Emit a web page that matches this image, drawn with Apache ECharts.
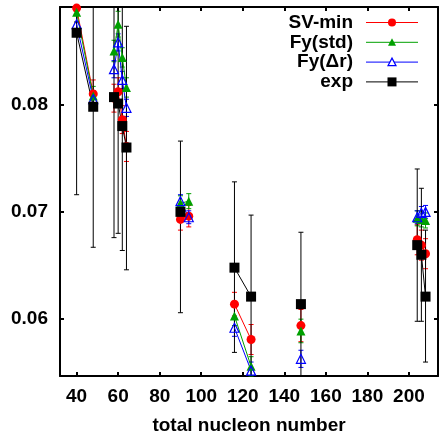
<!DOCTYPE html>
<html><head><meta charset="utf-8">
<script src="https://cdn.jsdelivr.net/npm/echarts@6/dist/echarts.min.js"></script>
<style>html,body{margin:0;padding:0;background:#fff}#c{width:441px;height:434px}</style>
</head><body><div id="c"></div>
<script>
// ---- data ----
const theoryMass  = [40, 48, 58, 60, 62, 64, 90, 94, 116, 124, 148, 204, 206, 208];
const theoryChain = ['Ca','Ca','Ni','Ni','Ni','Ni','Zr','Zr','Sn','Sn','Sm','Pb','Pb','Pb'];
const svMin    = [0.0890, 0.0810, 0.0806, 0.0812, 0.0786, 0.0761, 0.0693, 0.0696, 0.0614, 0.0581, 0.0594, 0.0674, 0.0669, 0.0661];
const svMinErr = [0.0013, 0.0013, 0.0013, 0.0013, 0.0013, 0.0014, 0.0010, 0.0010, 0.0011, 0.0014, 0.0015, 0.0014, 0.0014, 0.0014];
const fyStd    = [0.0886, 0.0808, 0.0850, 0.0875, 0.0844, 0.0816, 0.0708, 0.0710, 0.0603, 0.0556, 0.0589, 0.0694, 0.0693, 0.0692];
const fyStdErr = [0.0009, 0.0009, 0.0010, 0.0012, 0.0009, 0.0009, 0.0007, 0.0007, 0.0009, 0.0009, 0.0011, 0.0007, 0.0007, 0.0007];
const fyDr     = [0.0875, 0.0805, 0.0833, 0.0858, 0.0823, 0.0797, 0.0710, 0.0695, 0.0592, 0.0552, 0.0563, 0.0695, 0.0699, 0.0700];
const fyDrErr  = [0.0008, 0.0008, 0.0008, 0.0008, 0.0008, 0.0008, 0.0006, 0.0006, 0.0008, 0.0008, 0.0008, 0.0006, 0.0006, 0.0006];
const expMass  = [40, 48, 58, 60, 62, 64, 90, 116, 124, 148, 204, 206, 208];
const expChain = ['Ca','Ca','Ni','Ni','Ni','Ni','Zr','Sn','Sn','Sm','Pb','Pb','Pb'];
const expVal   = [0.0867, 0.0798, 0.0807, 0.0801, 0.0780, 0.0760, 0.0700, 0.0648, 0.0621, 0.0614, 0.0669, 0.0660, 0.0621];
const expLow   = [0.0716, 0.0667, 0.0676, 0.0680, 0.0664, 0.0646, 0.0606, 0.0569, 0.0545, 0.0547, 0.0598, 0.0598, 0.0560];
const expHigh  = [0.1018, 0.0929, 0.0938, 0.0922, 0.0896, 0.0873, 0.0766, 0.0728, 0.0697, 0.0681, 0.0740, 0.0722, 0.0683];
const xTicks = [40, 60, 80, 100, 120, 140, 160, 180, 200];
const yTicks = [0.06, 0.07, 0.08];
const seriesNames = ['SV-min', 'Fy(std)', 'Fy(\u0394r)', 'exp'];
const xTitle = 'total nucleon number';

// ---- helpers ----
function chainData(mass, chain, vals) {
  const out = [];
  for (let i = 0; i < mass.length; i++) {
    if (i > 0 && chain[i] !== chain[i - 1]) out.push([(mass[i] + mass[i - 1]) / 2, null]);
    out.push([mass[i], vals[i]]);
  }
  return out;
}
function errSeries(mass, low, high, color) {
  return {
    type: 'custom', silent: true, animation: false,
    encode: {x: 0, y: [1, 2]},
    data: mass.map((m, i) => [m, low[i], high[i]]),
    renderItem(params, api) {
      const x = api.value(0), lo = api.value(1), hi = api.value(2);
      const p1 = api.coord([x, hi]), p2 = api.coord([x, lo]);
      const cs = params.coordSys;
      const top = cs.y, bot = cs.y + cs.height;
      const y1 = Math.max(p1[1], top), y2 = Math.min(p2[1], bot);
      if (y2 <= y1) return null;
      const st = {stroke: color, lineWidth: 1};
      const ch = [{type: 'line', shape: {x1: p1[0], y1: y1, x2: p1[0], y2: y2}, style: st}];
      const c = 2.5;
      if (p1[1] >= top) ch.push({type: 'line', shape: {x1: p1[0] - c, y1: p1[1], x2: p1[0] + c, y2: p1[1]}, style: st});
      if (p2[1] <= bot) ch.push({type: 'line', shape: {x1: p2[0] - c, y1: p2[1], x2: p2[0] + c, y2: p2[1]}, style: st});
      return {type: 'group', children: ch};
    }
  };
}
function lineSeries(name, data, color, symbol, size, hollow) {
  return {
    name, type: 'line', data, connectNulls: false, clip: true, animation: false, silent: true,
    symbol, symbolSize: size, showAllSymbol: true,
    lineStyle: {color, width: 1},
    itemStyle: hollow ? {color: 'rgba(255,255,255,0)', borderColor: color, borderWidth: 1.2} : {color, borderWidth: 0},
    emphasis: {disabled: true}
  };
}
const RED = '#ff0000', GREEN = '#00a000', BLUE = '#0000ff', BLACK = '#000000';
const FONT = {fontFamily: 'Liberation Sans', fontWeight: 'bold', fontSize: 19, color: '#000'};

const axisCommon = {
  type: 'value', min: 32, max: 214,
  axisLine: {show: true, onZero: false, lineStyle: {color: '#000', width: 2}},
  axisTick: {show: true, inside: true, length: 4, lineStyle: {color: '#000', width: 2}, customValues: xTicks},
  splitLine: {show: false}
};
const yCommon = {
  type: 'value', min: 0.0547, max: 0.0891,
  axisLine: {show: true, onZero: false, lineStyle: {color: '#000', width: 2}},
  axisTick: {show: true, inside: true, length: 4, lineStyle: {color: '#000', width: 2}, customValues: yTicks},
  splitLine: {show: false}
};

// legend drawn with graphics
const legendItems = [
  {name: seriesNames[0], color: RED, shape: 'circle'},
  {name: seriesNames[1], color: GREEN, shape: 'tri'},
  {name: seriesNames[2], color: BLUE, shape: 'otri'},
  {name: seriesNames[3], color: BLACK, shape: 'square'}
];
const graphics = [];
legendItems.forEach((it, i) => {
  const y = 22.5 + i * 19.8;
  graphics.push({type: 'text', x: 353, y: y, style: {text: it.name, textAlign: 'right', textVerticalAlign: 'middle', font: 'bold 19px "Liberation Sans"', fill: '#000'}, z: 100});
  graphics.push({type: 'line', shape: {x1: 366, y1: y, x2: 418, y2: y}, style: {stroke: it.color, lineWidth: 1}, z: 100});
  const cx = 392;
  if (it.shape === 'circle') graphics.push({type: 'circle', shape: {cx, cy: y, r: 4}, style: {fill: it.color}, z: 101});
  if (it.shape === 'tri') graphics.push({type: 'polygon', shape: {points: [[cx, y - 4], [cx + 4, y + 3.5], [cx - 4, y + 3.5]]}, style: {fill: it.color}, z: 101});
  if (it.shape === 'otri') graphics.push({type: 'polygon', shape: {points: [[cx, y - 4], [cx + 4, y + 3.5], [cx - 4, y + 3.5]]}, style: {fill: '#fff', stroke: it.color, lineWidth: 1.2}, z: 101});
  if (it.shape === 'square') graphics.push({type: 'rect', shape: {x: cx - 4.5, y: y - 4.5, width: 9, height: 9}, style: {fill: it.color}, z: 101});
});

const chart = echarts.init(document.getElementById('c'), null, {renderer: 'canvas'});
chart.setOption({
  animation: false,
  backgroundColor: '#fff',
  grid: {left: 60, right: 3, top: 7, bottom: 58, containLabel: false, outerBoundsMode: 'none'},
  xAxis: [
    Object.assign({}, axisCommon, {
      position: 'bottom',
      name: xTitle, nameLocation: 'middle', nameGap: 40, nameTextStyle: FONT,
      axisLabel: Object.assign({show: true, margin: 11, customValues: xTicks}, FONT)
    }),
    Object.assign({}, axisCommon, {position: 'top', axisLabel: {show: false}})
  ],
  yAxis: [
    Object.assign({}, yCommon, {
      position: 'left',
      axisLabel: Object.assign({show: true, margin: 12, customValues: yTicks, formatter: v => v.toFixed(2)}, FONT)
    }),
    Object.assign({}, yCommon, {position: 'right', axisLabel: {show: false}})
  ],
  graphic: graphics,
  series: [
    errSeries(theoryMass, svMin.map((v, i) => v - svMinErr[i]), svMin.map((v, i) => v + svMinErr[i]), RED),
    lineSeries(seriesNames[0], chainData(theoryMass, theoryChain, svMin), RED, 'circle', 9, false),
    errSeries(theoryMass, fyStd.map((v, i) => v - fyStdErr[i]), fyStd.map((v, i) => v + fyStdErr[i]), GREEN),
    lineSeries(seriesNames[1], chainData(theoryMass, theoryChain, fyStd), GREEN, 'triangle', 9, false),
    errSeries(theoryMass, fyDr.map((v, i) => v - fyDrErr[i]), fyDr.map((v, i) => v + fyDrErr[i]), BLUE),
    lineSeries(seriesNames[2], chainData(theoryMass, theoryChain, fyDr), BLUE, 'triangle', 9, true),
    errSeries(expMass, expLow, expHigh, BLACK),
    lineSeries(seriesNames[3], chainData(expMass, expChain, expVal), BLACK, 'rect', 10, false)
  ]
});
</script>
</body></html>
